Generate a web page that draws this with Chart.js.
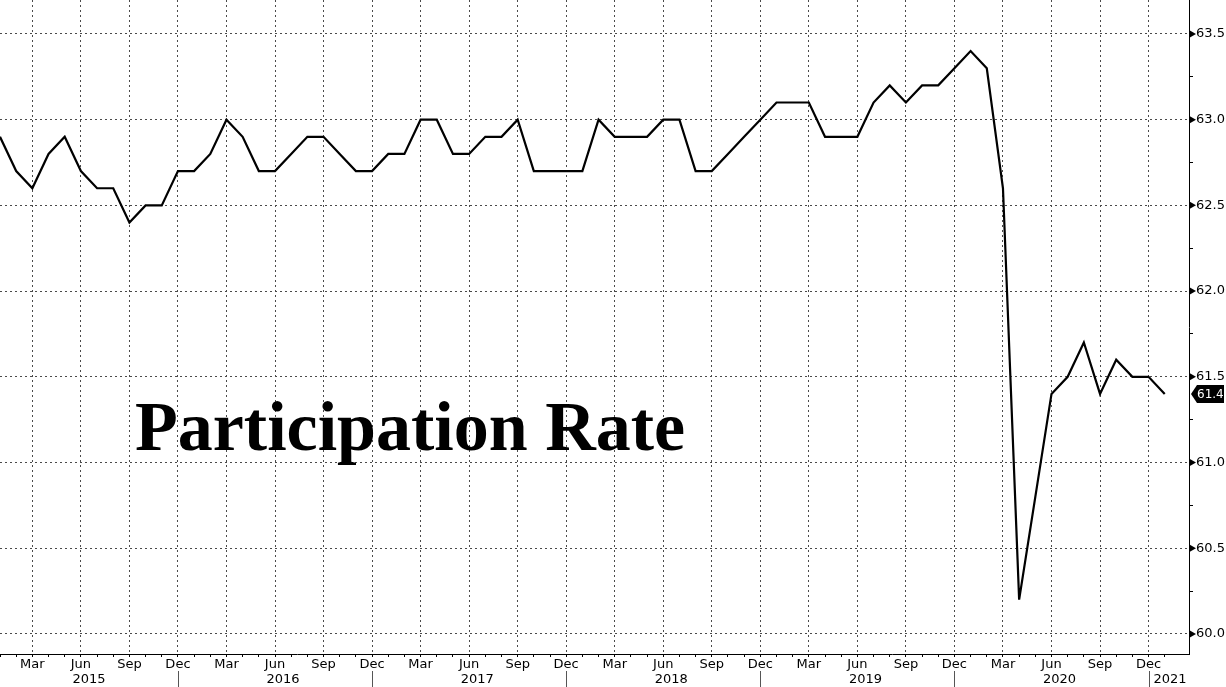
<!DOCTYPE html>
<html>
<head>
<meta charset="utf-8">
<script src="https://cdn.jsdelivr.net/npm/chart.js@4"></script>
<style>
  html, body { margin: 0; padding: 0; background: #fff; }
  #wrap { width: 1226px; height: 687px; }
</style>
</head>
<body>
<div id="wrap"><canvas id="chart"></canvas></div>
<script>
  // ── data ────────────────────────────────────────────
  var MONTHS = ["Jan", "Feb", "Mar", "Apr", "May", "Jun", "Jul", "Aug", "Sep", "Oct", "Nov", "Dec"];
  var QUARTER_MONTHS = ["Mar", "Jun", "Sep", "Dec"];
  var YEARS = [2015, 2016, 2017, 2018, 2019, 2020, 2021];

  var RATE_2015 = [62.9, 62.7, 62.6, 62.8, 62.9, 62.7, 62.6, 62.6, 62.4, 62.5, 62.5, 62.7];
  var RATE_2016 = [62.7, 62.8, 63.0, 62.9, 62.7, 62.7, 62.8, 62.9, 62.9, 62.8, 62.7, 62.7];
  var RATE_2017 = [62.8, 62.8, 63.0, 63.0, 62.8, 62.8, 62.9, 62.9, 63.0, 62.7, 62.7, 62.7];
  var RATE_2018 = [62.7, 63.0, 62.9, 62.9, 62.9, 63.0, 63.0, 62.7, 62.7, 62.8, 62.9, 63.0];
  var RATE_2019 = [63.1, 63.1, 63.1, 62.9, 62.9, 62.9, 63.1, 63.2, 63.1, 63.2, 63.2, 63.3];
  var RATE_2020 = [63.4, 63.3, 62.6, 60.2, 60.8, 61.4, 61.5, 61.7, 61.4, 61.6, 61.5, 61.5];
  var RATE_2021 = [61.4];

  var Y_MAJOR = [60.0, 60.5, 61.0, 61.5, 62.0, 62.5, 63.0, 63.5];
  var Y_MINOR = [60.25, 60.75, 61.25, 61.75, 62.25, 62.75, 63.25];
  var TITLE = "Participation Rate";

  // ── build series ────────────────────────────────────
  var ALL = [RATE_2015, RATE_2016, RATE_2017, RATE_2018, RATE_2019, RATE_2020, RATE_2021];
  var values = [];
  ALL.forEach(function (arr) { values = values.concat(arr); });
  var points = values.map(function (v, i) { return { x: i, y: v }; });
  var lastValue = values[values.length - 1];

  var AXIS_FONT = { family: "DejaVu Sans", size: 13 };
  var GRID_COLOR = "#4a4a4a";
  var CLEAR = "rgba(0,0,0,0)";

  function isQuarter(i) {
    return QUARTER_MONTHS.indexOf(MONTHS[i % 12]) >= 0;
  }
  function isMajor(v) {
    return Y_MAJOR.some(function (m) { return Math.abs(m - v) < 1e-6; });
  }

  // ── extra drawing: axis arrows, last value, years, title ──
  var decor = {
    id: "decor",
    afterDraw: function (chart) {
      var c = chart.ctx;
      var xs = chart.scales.x;
      var ys = chart.scales.y;
      var area = chart.chartArea;
      c.save();

      // triangles on right axis
      c.fillStyle = "#000";
      Y_MAJOR.forEach(function (v) {
        var y = ys.getPixelForValue(v);
        c.beginPath();
        c.moveTo(area.right, y - 4);
        c.lineTo(area.right + 7, y);
        c.lineTo(area.right, y + 4);
        c.closePath();
        c.fill();
      });

      // last value box
      var ly = ys.getPixelForValue(lastValue);
      c.beginPath();
      c.moveTo(area.right + 2, ly);
      c.lineTo(area.right + 8, ly - 9);
      c.lineTo(chart.width - 2, ly - 9);
      c.lineTo(chart.width - 2, ly + 9);
      c.lineTo(area.right + 8, ly + 9);
      c.closePath();
      c.fill();
      c.fillStyle = "#fff";
      c.font = "12px 'DejaVu Sans'";
      c.textBaseline = "middle";
      c.textAlign = "left";
      c.fillText(lastValue.toFixed(1), area.right + 8, ly + 1);

      // year separators + labels
      c.strokeStyle = "#555";
      c.lineWidth = 1;
      c.fillStyle = "#000";
      c.font = "13px 'DejaVu Sans'";
      c.textAlign = "center";
      var n = values.length;
      YEARS.forEach(function (yr, k) {
        var start = k * 12;
        var end = Math.min(start + 11, n - 1);
        if (start + 11 <= n - 1) {
          var sepX = Math.round(xs.getPixelForValue(start + 11)) + 0.5;
          c.beginPath();
          c.moveTo(sepX, 671);
          c.lineTo(sepX, 687);
          c.stroke();
        }
        var cx = (xs.getPixelForValue(start) + xs.getPixelForValue(end)) / 2;
        var w = c.measureText(String(yr)).width;
        if (k > 0) {
          var prevSep = xs.getPixelForValue(start - 1);
          if (cx - w / 2 < prevSep + 5) cx = prevSep + 5 + w / 2;
        }
        c.fillText(String(yr), cx, 680);
      });

      // title
      c.font = "bold 70px 'Liberation Serif'";
      c.textAlign = "left";
      c.textBaseline = "alphabetic";
      c.fillStyle = "#000";
      c.fillText(TITLE, 135, 450);

      c.restore();
    },
  };

  new Chart(document.getElementById("chart").getContext("2d"), {
    type: "line",
    data: {
      datasets: [
        {
          data: points,
          borderColor: "#000",
          borderWidth: 2.2,
          pointRadius: 0,
          tension: 0,
          fill: false,
        },
      ],
    },
    options: {
      responsive: true,
      maintainAspectRatio: false,
      animation: false,
      layout: { padding: 0 },
      plugins: { legend: { display: false }, tooltip: { enabled: false } },
      scales: {
        x: {
          type: "linear",
          min: 0,
          max: 73.5,
          afterBuildTicks: function (s) {
            s.ticks = values.map(function (v, i) { return { value: i }; });
          },
          afterFit: function (s) {
            s.height = 33;
            s.paddingLeft = 0;
            s.paddingRight = 0;
          },
          ticks: {
            autoSkip: false,
            maxRotation: 0,
            padding: 0,
            color: "#000",
            font: AXIS_FONT,
            callback: function (v) {
              return isQuarter(v) ? MONTHS[v % 12] : "";
            },
          },
          grid: {
            color: function (ctx) {
              return ctx.tick && isQuarter(ctx.tick.value) ? GRID_COLOR : CLEAR;
            },
            lineWidth: 1,
            tickColor: "#000",
            tickLength: 3,
          },
          border: { color: "#000", width: 1, dash: [2, 3] },
        },
        y: {
          position: "right",
          min: 59.883,
          max: 63.698,
          afterBuildTicks: function (s) {
            s.ticks = Y_MAJOR.concat(Y_MINOR)
              .sort(function (a, b) { return a - b; })
              .map(function (v) { return { value: v }; });
          },
          afterFit: function (s) {
            s.width = 37;
            s.paddingTop = 0;
            s.paddingBottom = 0;
          },
          ticks: {
            padding: 3,
            color: "#000",
            font: AXIS_FONT,
            callback: function (v) {
              return isMajor(v) ? v.toFixed(1) : "";
            },
          },
          grid: {
            color: function (ctx) {
              return ctx.tick && isMajor(ctx.tick.value) ? GRID_COLOR : CLEAR;
            },
            lineWidth: 1,
            tickColor: function (ctx) {
              return ctx.tick && isMajor(ctx.tick.value) ? CLEAR : "#000";
            },
            tickLength: 4,
          },
          border: { color: "#000", width: 1, dash: [2, 3] },
        },
      },
    },
    plugins: [decor],
  });
</script>
</body>
</html>
